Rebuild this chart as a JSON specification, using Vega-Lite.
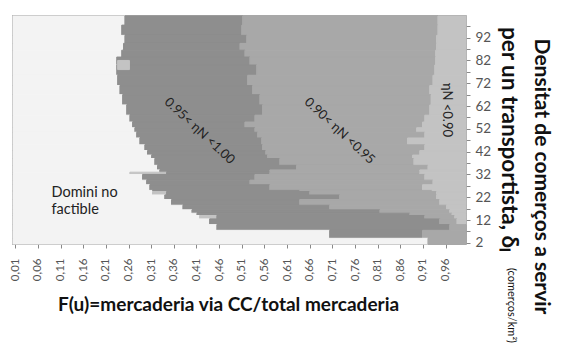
{
  "$schema": "https://vega.github.io/schema/vega-lite/v6.json",
  "width": 453,
  "height": 228,
  "autosize": {"type": "none"},
  "padding": {"left": 13, "top": 16, "right": 97, "bottom": 100},
  "background": "white",
  "config": {"view": {"stroke": "#8a8a8a", "strokeWidth": 1.5}, "font": "Lato", "axis": {"labelOverlap": false}},
  "resolve": {"axis": {"x": "independent", "y": "independent"}},
  "layer": [
    {
      "data": {"values": [
        {"d0":97.5,"d1":101.5,"f0":0.005,"f1":0.252,"eta":"nf"},{"d0":97.5,"d1":101.5,"f0":0.252,"f1":0.512,"eta":"a"},{"d0":97.5,"d1":101.5,"f0":0.512,"f1":0.943,"eta":"b"},{"d0":97.5,"d1":101.5,"f0":0.943,"f1":1.005,"eta":"c"},
        {"d0":93,"d1":97.5,"f0":0.005,"f1":0.245,"eta":"nf"},{"d0":93,"d1":97.5,"f0":0.245,"f1":0.510,"eta":"a"},{"d0":93,"d1":97.5,"f0":0.510,"f1":0.943,"eta":"b"},{"d0":93,"d1":97.5,"f0":0.943,"f1":1.005,"eta":"c"},
        {"d0":89.5,"d1":93,"f0":0.005,"f1":0.252,"eta":"nf"},{"d0":89.5,"d1":93,"f0":0.252,"f1":0.521,"eta":"a"},{"d0":89.5,"d1":93,"f0":0.521,"f1":0.940,"eta":"b"},{"d0":89.5,"d1":93,"f0":0.940,"f1":1.005,"eta":"c"},
        {"d0":86.5,"d1":89.5,"f0":0.005,"f1":0.249,"eta":"nf"},{"d0":86.5,"d1":89.5,"f0":0.249,"f1":0.506,"eta":"a"},{"d0":86.5,"d1":89.5,"f0":0.506,"f1":0.940,"eta":"b"},{"d0":86.5,"d1":89.5,"f0":0.940,"f1":1.005,"eta":"c"},
        {"d0":83.5,"d1":86.5,"f0":0.005,"f1":0.245,"eta":"nf"},{"d0":83.5,"d1":86.5,"f0":0.245,"f1":0.517,"eta":"a"},{"d0":83.5,"d1":86.5,"f0":0.517,"f1":0.938,"eta":"b"},{"d0":83.5,"d1":86.5,"f0":0.938,"f1":1.005,"eta":"c"},
        {"d0":80,"d1":83.5,"f0":0.005,"f1":0.234,"eta":"nf"},{"d0":80,"d1":83.5,"f0":0.234,"f1":0.528,"eta":"a"},{"d0":80,"d1":83.5,"f0":0.528,"f1":0.938,"eta":"b"},{"d0":80,"d1":83.5,"f0":0.938,"f1":1.005,"eta":"c"},
        {"d0":75.5,"d1":80,"f0":0.005,"f1":0.234,"eta":"nf"},{"d0":75.5,"d1":80,"f0":0.234,"f1":0.543,"eta":"a"},{"d0":75.5,"d1":80,"f0":0.543,"f1":0.936,"eta":"b"},{"d0":75.5,"d1":80,"f0":0.936,"f1":1.005,"eta":"c"},
        {"d0":71,"d1":75.5,"f0":0.005,"f1":0.236,"eta":"nf"},{"d0":71,"d1":75.5,"f0":0.236,"f1":0.523,"eta":"a"},{"d0":71,"d1":75.5,"f0":0.523,"f1":0.932,"eta":"b"},{"d0":71,"d1":75.5,"f0":0.932,"f1":1.005,"eta":"c"},
        {"d0":67,"d1":71,"f0":0.005,"f1":0.241,"eta":"nf"},{"d0":67,"d1":71,"f0":0.241,"f1":0.534,"eta":"a"},{"d0":67,"d1":71,"f0":0.534,"f1":0.925,"eta":"b"},{"d0":67,"d1":71,"f0":0.925,"f1":1.005,"eta":"c"},
        {"d0":62.5,"d1":67,"f0":0.005,"f1":0.247,"eta":"nf"},{"d0":62.5,"d1":67,"f0":0.247,"f1":0.550,"eta":"a"},{"d0":62.5,"d1":67,"f0":0.550,"f1":0.928,"eta":"b"},{"d0":62.5,"d1":67,"f0":0.928,"f1":1.005,"eta":"c"},
        {"d0":58,"d1":62.5,"f0":0.005,"f1":0.256,"eta":"nf"},{"d0":58,"d1":62.5,"f0":0.256,"f1":0.556,"eta":"a"},{"d0":58,"d1":62.5,"f0":0.556,"f1":0.925,"eta":"b"},{"d0":58,"d1":62.5,"f0":0.925,"f1":1.005,"eta":"c"},
        {"d0":55,"d1":58,"f0":0.005,"f1":0.263,"eta":"nf"},{"d0":55,"d1":58,"f0":0.263,"f1":0.539,"eta":"a"},{"d0":55,"d1":58,"f0":0.539,"f1":0.914,"eta":"b"},{"d0":55,"d1":58,"f0":0.914,"f1":1.005,"eta":"c"},
        {"d0":52.5,"d1":55,"f0":0.005,"f1":0.269,"eta":"nf"},{"d0":52.5,"d1":55,"f0":0.269,"f1":0.517,"eta":"a"},{"d0":52.5,"d1":55,"f0":0.517,"f1":0.909,"eta":"b"},{"d0":52.5,"d1":55,"f0":0.909,"f1":1.005,"eta":"c"},
        {"d0":50.5,"d1":52.5,"f0":0.005,"f1":0.274,"eta":"nf"},{"d0":50.5,"d1":52.5,"f0":0.274,"f1":0.539,"eta":"a"},{"d0":50.5,"d1":52.5,"f0":0.539,"f1":0.896,"eta":"b"},{"d0":50.5,"d1":52.5,"f0":0.896,"f1":1.005,"eta":"c"},
        {"d0":48,"d1":50.5,"f0":0.005,"f1":0.278,"eta":"nf"},{"d0":48,"d1":50.5,"f0":0.278,"f1":0.545,"eta":"a"},{"d0":48,"d1":50.5,"f0":0.545,"f1":0.914,"eta":"b"},{"d0":48,"d1":50.5,"f0":0.914,"f1":1.005,"eta":"c"},
        {"d0":45,"d1":48,"f0":0.005,"f1":0.285,"eta":"nf"},{"d0":45,"d1":48,"f0":0.285,"f1":0.554,"eta":"a"},{"d0":45,"d1":48,"f0":0.554,"f1":0.876,"eta":"b"},{"d0":45,"d1":48,"f0":0.876,"f1":1.005,"eta":"c"},
        {"d0":42.5,"d1":45,"f0":0.005,"f1":0.296,"eta":"nf"},{"d0":42.5,"d1":45,"f0":0.296,"f1":0.556,"eta":"a"},{"d0":42.5,"d1":45,"f0":0.556,"f1":0.914,"eta":"b"},{"d0":42.5,"d1":45,"f0":0.914,"f1":1.005,"eta":"c"},
        {"d0":40.5,"d1":42.5,"f0":0.005,"f1":0.302,"eta":"nf"},{"d0":40.5,"d1":42.5,"f0":0.302,"f1":0.563,"eta":"a"},{"d0":40.5,"d1":42.5,"f0":0.563,"f1":0.903,"eta":"b"},{"d0":40.5,"d1":42.5,"f0":0.903,"f1":1.005,"eta":"c"},
        {"d0":39,"d1":40.5,"f0":0.005,"f1":0.311,"eta":"nf"},{"d0":39,"d1":40.5,"f0":0.311,"f1":0.567,"eta":"a"},{"d0":39,"d1":40.5,"f0":0.567,"f1":0.887,"eta":"b"},{"d0":39,"d1":40.5,"f0":0.887,"f1":1.005,"eta":"c"},
        {"d0":36,"d1":39,"f0":0.005,"f1":0.318,"eta":"nf"},{"d0":36,"d1":39,"f0":0.318,"f1":0.594,"eta":"a"},{"d0":36,"d1":39,"f0":0.594,"f1":0.890,"eta":"b"},{"d0":36,"d1":39,"f0":0.890,"f1":1.005,"eta":"c"},
        {"d0":34,"d1":36,"f0":0.005,"f1":0.324,"eta":"nf"},{"d0":34,"d1":36,"f0":0.324,"f1":0.631,"eta":"a"},{"d0":34,"d1":36,"f0":0.631,"f1":0.921,"eta":"b"},{"d0":34,"d1":36,"f0":0.921,"f1":1.005,"eta":"c"},
        {"d0":33,"d1":34,"f0":0.005,"f1":0.329,"eta":"nf"},{"d0":33,"d1":34,"f0":0.329,"f1":0.572,"eta":"a"},{"d0":33,"d1":34,"f0":0.572,"f1":0.903,"eta":"b"},{"d0":33,"d1":34,"f0":0.903,"f1":1.005,"eta":"c"},
        {"d0":32,"d1":33,"f0":0.005,"f1":0.263,"eta":"nf"},{"d0":32,"d1":33,"f0":0.263,"f1":0.344,"eta":"c"},{"d0":32,"d1":33,"f0":0.344,"f1":0.572,"eta":"a"},{"d0":32,"d1":33,"f0":0.572,"f1":0.903,"eta":"b"},{"d0":32,"d1":33,"f0":0.903,"f1":1.005,"eta":"c"},
        {"d0":29.5,"d1":32,"f0":0.005,"f1":0.291,"eta":"nf"},{"d0":29.5,"d1":32,"f0":0.291,"f1":0.539,"eta":"a"},{"d0":29.5,"d1":32,"f0":0.539,"f1":0.914,"eta":"b"},{"d0":29.5,"d1":32,"f0":0.914,"f1":1.005,"eta":"c"},
        {"d0":27.5,"d1":29.5,"f0":0.005,"f1":0.300,"eta":"nf"},{"d0":27.5,"d1":29.5,"f0":0.300,"f1":0.528,"eta":"a"},{"d0":27.5,"d1":29.5,"f0":0.528,"f1":0.932,"eta":"b"},{"d0":27.5,"d1":29.5,"f0":0.932,"f1":1.005,"eta":"c"},
        {"d0":25,"d1":27.5,"f0":0.005,"f1":0.307,"eta":"nf"},{"d0":25,"d1":27.5,"f0":0.307,"f1":0.572,"eta":"a"},{"d0":25,"d1":27.5,"f0":0.572,"f1":0.909,"eta":"b"},{"d0":25,"d1":27.5,"f0":0.909,"f1":1.005,"eta":"c"},
        {"d0":24.5,"d1":25,"f0":0.005,"f1":0.313,"eta":"nf"},{"d0":24.5,"d1":25,"f0":0.313,"f1":0.638,"eta":"a"},{"d0":24.5,"d1":25,"f0":0.638,"f1":0.930,"eta":"b"},{"d0":24.5,"d1":25,"f0":0.930,"f1":1.005,"eta":"c"},
        {"d0":23,"d1":24.5,"f0":0.005,"f1":0.313,"eta":"nf"},{"d0":23,"d1":24.5,"f0":0.313,"f1":0.344,"eta":"c"},{"d0":23,"d1":24.5,"f0":0.344,"f1":0.660,"eta":"a"},{"d0":23,"d1":24.5,"f0":0.660,"f1":0.940,"eta":"b"},{"d0":23,"d1":24.5,"f0":0.940,"f1":1.005,"eta":"c"},
        {"d0":21,"d1":23,"f0":0.005,"f1":0.340,"eta":"nf"},{"d0":21,"d1":23,"f0":0.340,"f1":0.726,"eta":"a"},{"d0":21,"d1":23,"f0":0.726,"f1":0.940,"eta":"b"},{"d0":21,"d1":23,"f0":0.940,"f1":1.005,"eta":"c"},
        {"d0":18.5,"d1":21,"f0":0.005,"f1":0.355,"eta":"nf"},{"d0":18.5,"d1":21,"f0":0.355,"f1":0.638,"eta":"a"},{"d0":18.5,"d1":21,"f0":0.638,"f1":0.947,"eta":"b"},{"d0":18.5,"d1":21,"f0":0.947,"f1":1.005,"eta":"c"},
        {"d0":16.5,"d1":18.5,"f0":0.005,"f1":0.380,"eta":"nf"},{"d0":16.5,"d1":18.5,"f0":0.380,"f1":0.704,"eta":"a"},{"d0":16.5,"d1":18.5,"f0":0.704,"f1":0.962,"eta":"b"},{"d0":16.5,"d1":18.5,"f0":0.962,"f1":1.005,"eta":"c"},
        {"d0":15,"d1":16.5,"f0":0.005,"f1":0.400,"eta":"nf"},{"d0":15,"d1":16.5,"f0":0.400,"f1":0.815,"eta":"a"},{"d0":15,"d1":16.5,"f0":0.815,"f1":0.969,"eta":"b"},{"d0":15,"d1":16.5,"f0":0.969,"f1":1.005,"eta":"c"},
        {"d0":14,"d1":15,"f0":0.005,"f1":0.411,"eta":"nf"},{"d0":14,"d1":15,"f0":0.411,"f1":0.881,"eta":"a"},{"d0":14,"d1":15,"f0":0.881,"f1":0.974,"eta":"b"},{"d0":14,"d1":15,"f0":0.974,"f1":1.005,"eta":"c"},
        {"d0":12.5,"d1":14,"f0":0.005,"f1":0.417,"eta":"nf"},{"d0":12.5,"d1":14,"f0":0.417,"f1":0.455,"eta":"c"},{"d0":12.5,"d1":14,"f0":0.455,"f1":0.914,"eta":"a"},{"d0":12.5,"d1":14,"f0":0.914,"f1":0.980,"eta":"b"},{"d0":12.5,"d1":14,"f0":0.980,"f1":1.005,"eta":"c"},
        {"d0":10,"d1":12.5,"f0":0.005,"f1":0.439,"eta":"nf"},{"d0":10,"d1":12.5,"f0":0.439,"f1":0.947,"eta":"a"},{"d0":10,"d1":12.5,"f0":0.947,"f1":0.985,"eta":"b"},{"d0":10,"d1":12.5,"f0":0.985,"f1":1.005,"eta":"c"},
        {"d0":7.5,"d1":10,"f0":0.005,"f1":0.455,"eta":"nf"},{"d0":7.5,"d1":10,"f0":0.455,"f1":0.969,"eta":"a"},{"d0":7.5,"d1":10,"f0":0.969,"f1":1.005,"eta":"b"},
        {"d0":4,"d1":7.5,"f0":0.005,"f1":0.704,"eta":"nf"},{"d0":4,"d1":7.5,"f0":0.704,"f1":0.909,"eta":"a"},{"d0":4,"d1":7.5,"f0":0.909,"f1":1.005,"eta":"b"},
        {"d0":1.5,"d1":4,"f0":0.005,"f1":0.921,"eta":"nf"},{"d0":1.5,"d1":4,"f0":0.921,"f1":1.005,"eta":"b"},
        {"d0":78,"d1":82,"f0":0.236,"f1":0.262,"eta":"c"}
      ]},
      "mark": {"type": "rect", "strokeWidth": 1},
      "encoding": {
        "x": {"field": "f0", "type": "quantitative",
          "scale": {"domain": [0.005, 1.005], "nice": false, "zero": false},
          "axis": {
            "orient": "bottom",
            "values": [0.01,0.06,0.11,0.16,0.21,0.26,0.31,0.36,0.41,0.46,0.51,0.56,0.61,0.66,0.71,0.76,0.81,0.86,0.91,0.96],
            "labelExpr": "replace(format(datum.value, '.2f'), '.', ',')",
            "labelOverlap": false, "labelBound": false, "labelFlush": false,
            "labelAngle": -90, "labelFontSize": 11.5, "labelColor": "#555", "labelFont": "Lato",
            "tickSize": 4, "tickColor": "#888", "domain": false, "grid": false, "labelPadding": 10,
            "title": "F(u)=mercaderia via CC/total mercaderia",
            "titleFont": "Lato", "titleFontSize": 19, "titleFontWeight": "bold", "titleColor": "#111",
            "titleX": 215, "titleY": 60, "titleAlign": "center", "titleBaseline": "middle", "titleAngle": 0
          }},
        "x2": {"field": "f1"},
        "y": {"field": "d0", "type": "quantitative",
          "scale": {"domain": [1.5, 101.5], "nice": false, "zero": false},
          "axis": {
            "orient": "right",
            "values": [2,7,12,17,22,27,32,37,42,47,52,57,62,67,72,77,82,87,92,97],
            "labelExpr": "(datum.value - 2) % 10 == 0 ? datum.value : ''",
            "labelOverlap": false, "labelBound": false, "labelFlush": false,
            "labelFontSize": 13.5, "labelColor": "#555", "labelFont": "Lato",
            "tickSize": 4, "tickColor": "#888", "domain": false, "grid": false, "labelPadding": 5,
            "title": "Densitat de comerços a servir",
            "titleFont": "Lato", "titleFontSize": 21, "titleFontWeight": "bold", "titleColor": "#111",
            "titleAngle": 90, "titleX": 74, "titleY": 160, "titleAlign": "center", "titleBaseline": "middle"
          }},
        "y2": {"field": "d1"},
        "color": {"field": "eta", "type": "nominal",
          "scale": {"domain": ["nf","a","b","c"], "range": ["#f3f3f3","#8e8e8e","#a8a8a8","#c3c3c3"]}, "legend": null},
        "stroke": {"field": "eta", "type": "nominal",
          "scale": {"domain": ["nf","a","b","c"], "range": ["#f3f3f3","#8e8e8e","#a8a8a8","#c3c3c3"]}, "legend": null}
      }
    },
    {
      "data": {"values": [
        {"f": 0.09, "d": 23.9, "t": "Domini no"},
        {"f": 0.09, "d": 16.4, "t": "factible"}
      ]},
      "mark": {"type": "text", "align": "left", "baseline": "middle", "font": "Lato", "fontSize": 14.5, "color": "#222"},
      "encoding": {
        "x": {"field": "f", "type": "quantitative", "scale": {"domain": [0.005, 1.005], "nice": false, "zero": false}, "axis": null},
        "y": {"field": "d", "type": "quantitative", "scale": {"domain": [1.5, 101.5], "nice": false, "zero": false},
          "axis": {
            "orient": "left", "labels": false, "ticks": false, "domain": false, "grid": false,
            "title": "per un transportista, δₗ",
            "titleFont": "Lato", "titleFontSize": 22.5, "titleFontWeight": "bold", "titleColor": "#111",
            "titleAngle": 90, "titleX": 495, "titleY": 123, "titleAlign": "center", "titleBaseline": "middle"
          }},
        "text": {"field": "t"}
      }
    },
    {
      "data": {"values": [
        {"f": 0.417, "d": 51.1, "t": "0.95< ηN <1.00"},
        {"f": 0.726, "d": 51.1, "t": "0.90< ηN <0.95"}
      ]},
      "mark": {"type": "text", "align": "center", "baseline": "middle", "font": "Lato", "fontSize": 13, "color": "#222", "angle": 43},
      "encoding": {
        "x": {"field": "f", "type": "quantitative", "scale": {"domain": [0.005, 1.005], "nice": false, "zero": false},
          "axis": {
            "orient": "top", "labels": false, "ticks": false, "domain": false, "grid": false,
            "title": "(comerços/km²)",
            "titleFont": "Lato", "titleFontSize": 11, "titleFontWeight": "normal", "titleColor": "#111",
            "titleAngle": 90, "titleX": 497, "titleY": 289, "titleAlign": "center", "titleBaseline": "middle"
          }},
        "y": {"field": "d", "type": "quantitative", "scale": {"domain": [1.5, 101.5], "nice": false, "zero": false}, "axis": null},
        "text": {"field": "t"}
      }
    },
    {
      "data": {"values": [
        {"f": 0.962, "d": 60.3, "t": "ηN <0.90"}
      ]},
      "mark": {"type": "text", "align": "center", "baseline": "middle", "font": "Lato", "fontSize": 13, "color": "#222", "angle": 90},
      "encoding": {
        "x": {"field": "f", "type": "quantitative", "scale": {"domain": [0.005, 1.005], "nice": false, "zero": false}, "axis": null},
        "y": {"field": "d", "type": "quantitative", "scale": {"domain": [1.5, 101.5], "nice": false, "zero": false}, "axis": null},
        "text": {"field": "t"}
      }
    }
  ]
}
